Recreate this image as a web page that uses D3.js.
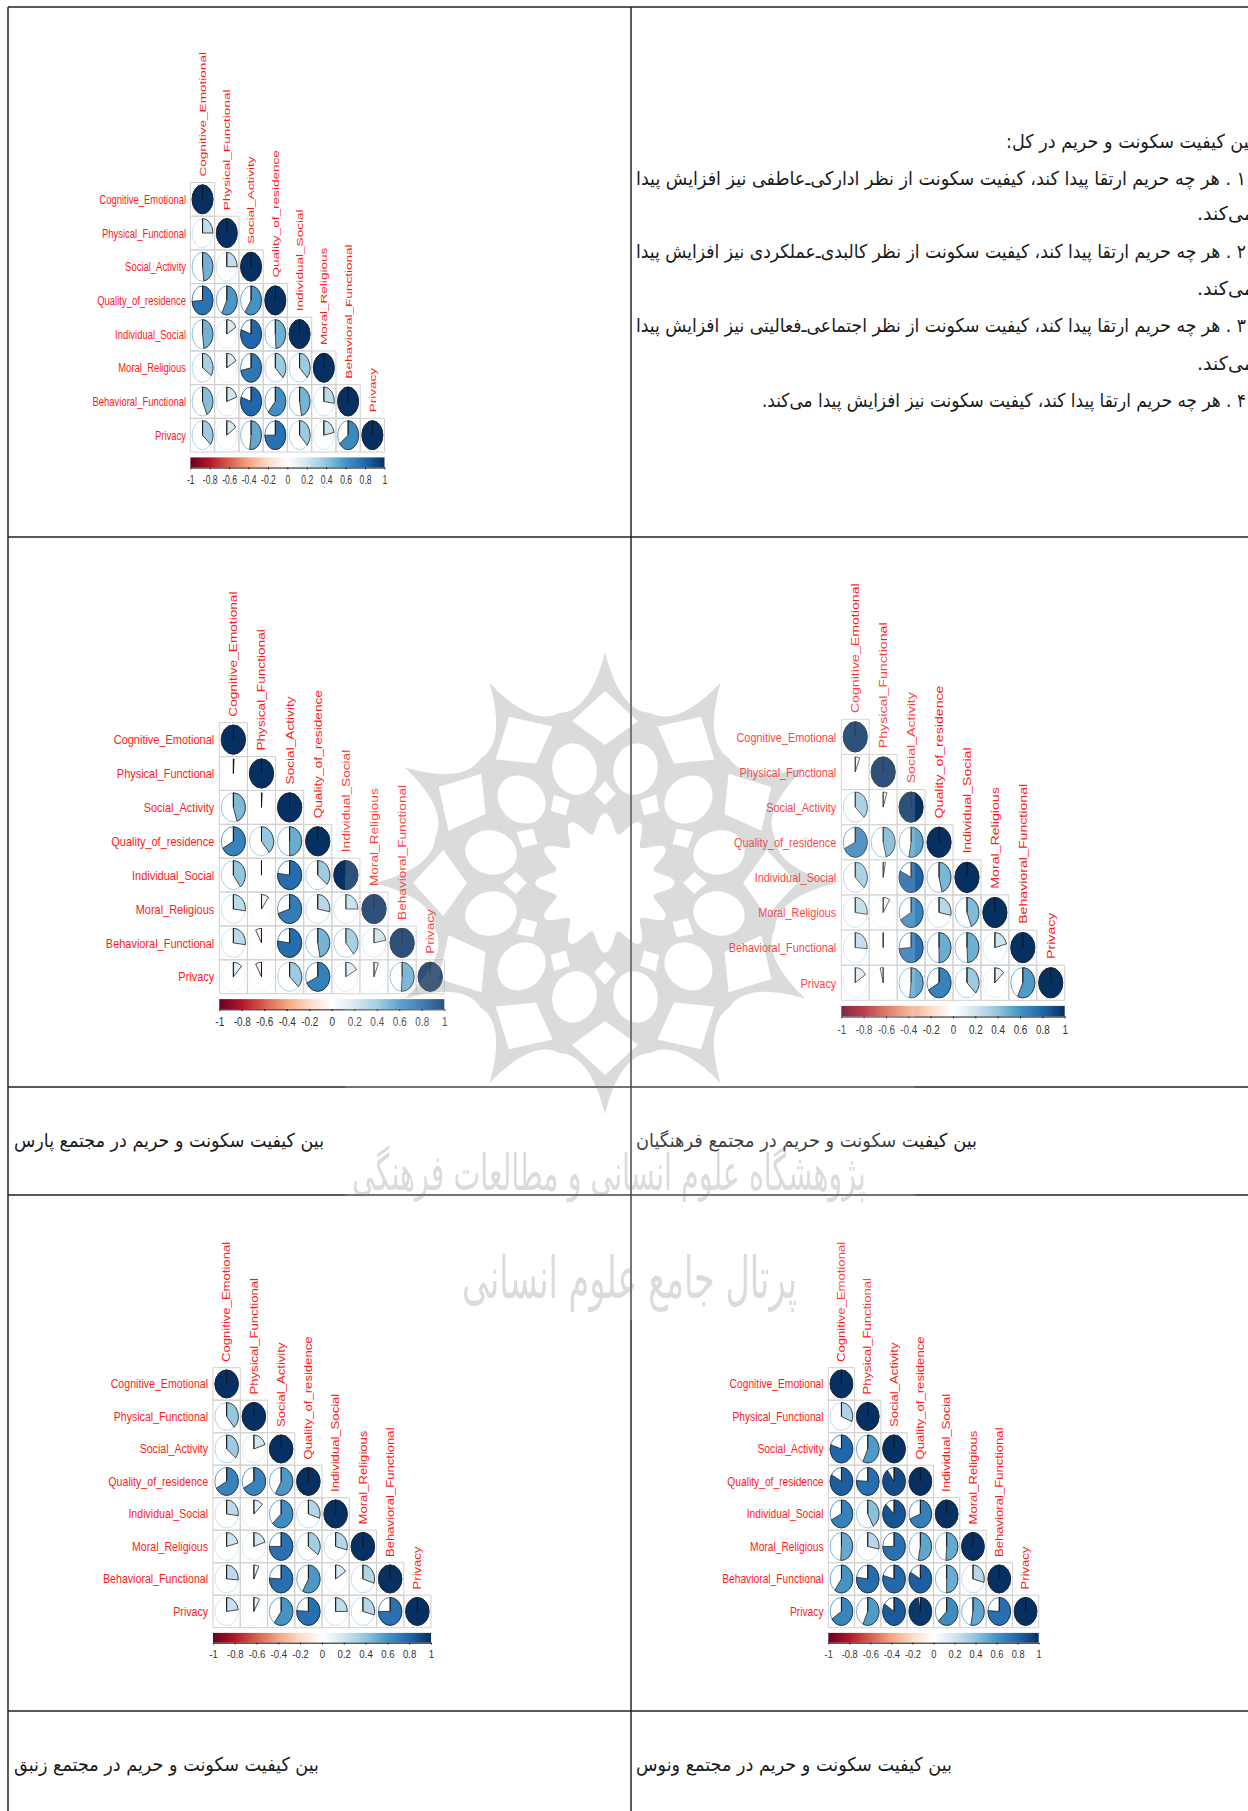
<!DOCTYPE html>
<html>
<head>
<meta charset="utf-8">
<title>corrplot</title>
<script src="https://cdn.jsdelivr.net/npm/d3@7"></script>
<style>
    html, body { margin: 0; padding: 0; background: #fff; }
    svg { display: block; }
    .nss { vector-effect: non-scaling-stroke; }
    .bar-axis path, .bar-axis line { stroke: #111; stroke-width: 1px; vector-effect: non-scaling-stroke; }
    .bar-axis text { fill: #333; font-family: "Liberation Sans", Arial, sans-serif; font-size: 10.6px; }
</style>
</head>
<body>
<div id="d3container"></div>
<script>
var categories = ['Cognitive_Emotional', 'Physical_Functional', 'Social_Activity', 'Quality_of_residence',
    'Individual_Social', 'Moral_Religious', 'Behavioral_Functional', 'Privacy'];

var barTicks = [-1, -0.8, -0.6, -0.4, -0.2, 0, 0.2, 0.4, 0.6, 0.8, 1];
var palette = ['#67001F', '#B2182B', '#D6604D', '#F4A582', '#FDDBC7', '#FFFFFF', '#D1E5F0', '#92C5DE', '#4393C3', '#2166AC', '#053061'];

// lower triangle of each correlation matrix
var overallValues = [
    [1],
    [0.25, 1],
    [0.48, 0.25, 1],
    [0.74, 0.58, 0.60, 1],
    [0.48, 0.17, 0.80, 0.49, 1],
    [0.34, 0.17, 0.72, 0.37, 0.37, 1],
    [0.43, 0.20, 0.80, 0.62, 0.47, 0.27, 1],
    [0.36, 0.16, 0.52, 0.75, 0.37, 0.22, 0.65, 1]
];
var parsValues = [
    [1],
    [0.01, 1],
    [0.45, 0.01, 1],
    [0.67, 0.39, 0.50, 1],
    [0.40, 0.00, 0.77, 0.36, 1],
    [0.27, 0.10, 0.70, 0.28, 0.25, 1],
    [0.27, -0.08, 0.77, 0.47, 0.39, 0.22, 1],
    [0.12, -0.08, 0.37, 0.68, 0.17, 0.06, 0.51, 1]
];
var farhangianValues = [
    [1],
    [0.06, 1],
    [0.37, 0.05, 1],
    [0.68, 0.46, 0.53, 1],
    [0.37, 0.03, 0.82, 0.46, 1],
    [0.27, 0.09, 0.67, 0.28, 0.44, 1],
    [0.26, 0.00, 0.74, 0.50, 0.49, 0.21, 1],
    [0.16, -0.04, 0.52, 0.67, 0.37, 0.13, 0.57, 1]
];
var zanbaghValues = [
    [1],
    [0.39, 1],
    [0.36, 0.20, 1],
    [0.67, 0.67, 0.58, 1],
    [0.27, 0.13, 0.63, 0.30, 1],
    [0.21, 0.20, 0.75, 0.35, 0.29, 1],
    [0.26, 0.07, 0.76, 0.58, 0.16, 0.30, 1],
    [0.23, 0.08, 0.60, 0.76, 0.25, 0.29, 0.75, 1]
];
var venusValues = [
    [1],
    [0.31, 1],
    [0.80, 0.57, 1],
    [0.83, 0.76, 0.90, 1],
    [0.68, 0.42, 0.87, 0.69, 1],
    [0.51, 0.28, 0.75, 0.53, 0.51, 1],
    [0.60, 0.77, 0.79, 0.83, 0.50, 0.29, 1],
    [0.66, 0.57, 0.84, 0.97, 0.63, 0.53, 0.76, 1]
];

var noteLines = [
    'بین کیفیت سکونت و حریم در کل:',
    '۱ . هر چه حریم ارتقا پیدا کند، کیفیت سکونت از نظر ادارکی‌ـ‌عاطفی نیز افزایش پیدا',
    'می‌کند.',
    '۲ . هر چه حریم ارتقا پیدا کند، کیفیت سکونت از نظر کالبدی‌ـ‌عملکردی نیز افزایش پیدا',
    'می‌کند.',
    '۳ . هر چه حریم ارتقا پیدا کند، کیفیت سکونت از نظر اجتماعی‌ـ‌فعالیتی نیز افزایش پیدا',
    'می‌کند.',
    '۴ . هر چه حریم ارتقا پیدا کند، کیفیت سکونت نیز افزایش پیدا می‌کند.'
];
var captions = [
    'بین کیفیت سکونت و حریم در مجتمع پارس',
    'بین کیفیت سکونت و حریم در مجتمع فرهنگیان',
    'بین کیفیت سکونت و حریم در مجتمع زنبق',
    'بین کیفیت سکونت و حریم در مجتمع ونوس'
];
var watermarkLines = ['پژوهشگاه علوم انسانی و مطالعات فرهنگی', 'پرتال جامع علوم انسانی'];

var width = 1248;
var height = 1811;
var unit = 240; // inner size of a matrix, the group transform stretches it to the panel

var panels = [
    {values: overallValues, x0: 190.4, x1: 384.5, y0: 182.5, y1: 452},
    {values: parsValues, x0: 219.3, x1: 444.3, y0: 722.7, y1: 993.7},
    {values: farhangianValues, x0: 841.3, x1: 1064.7, y0: 719.3, y1: 1000.3},
    {values: zanbaghValues, x0: 213, x1: 431, y0: 1367.7, y1: 1627.7},
    {values: venusValues, x0: 828.3, x1: 1038.7, y0: 1367.7, y1: 1627.7}
];
var noteLayout = [
    {right: 1254, len: 248, y: 142},
    {right: 1246, len: 610, y: 179},
    {right: 1254, len: 57, y: 214},
    {right: 1246, len: 610, y: 252},
    {right: 1254, len: 57, y: 289},
    {right: 1246, len: 610, y: 326},
    {right: 1254, len: 57, y: 364},
    {right: 1246, len: 484, y: 401}
];
var captionLayout = [
    {right: 324, len: 310, y: 1141},
    {right: 977, len: 341, y: 1141},
    {right: 319, len: 305, y: 1765},
    {right: 952, len: 316, y: 1765}
];
var vRules = [8, 631];
var hRules = [7, 537, 1087, 1195, 1711];

var svg = d3.select('#d3container')
    .append('svg')
    .attr('width', width)
    .attr('height', height);

svg.append('rect').attr('width', width).attr('height', height).attr('fill', '#fff');

var color = d3.scaleLinear()
    .domain(barTicks)
    .range(palette);

var gradient = svg.append('defs').append('linearGradient')
    .attr('id', 'barGradient');
gradient.selectAll('stop')
    .data(barTicks)
    .enter().append('stop')
    .attr('offset', function (d) { return (d + 1) / 2; })
    .attr('stop-color', function (d) { return color(d); });

// table rules
svg.selectAll('.vrule')
    .data(vRules)
    .enter().append('line')
    .attr('x1', function (d) { return d; })
    .attr('x2', function (d) { return d; })
    .attr('y1', 7)
    .attr('y2', height)
    .attr('stroke', '#333')
    .attr('stroke-width', 1.6);
svg.selectAll('.hrule')
    .data(hRules)
    .enter().append('line')
    .attr('x1', 8)
    .attr('x2', width)
    .attr('y1', function (d) { return d; })
    .attr('y2', function (d) { return d; })
    .attr('stroke', '#222')
    .attr('stroke-width', 1.6);

function persianText(g, str, layout, size, fill) {
    g.append('text')
        .attr('x', layout.right)
        .attr('y', layout.y)
        .attr('direction', 'rtl')
        .attr('text-anchor', 'start')
        .attr('dominant-baseline', 'middle')
        .attr('textLength', layout.len)
        .attr('lengthAdjust', 'spacingAndGlyphs')
        .attr('font-family', '"DejaVu Sans", sans-serif')
        .attr('font-size', size)
        .attr('fill', fill)
        .text(str);
}

noteLines.forEach(function (str, i) {
    persianText(svg, str, noteLayout[i], 19, '#1a1a1a');
});
captions.forEach(function (str, i) {
    persianText(svg, str, captionLayout[i], 19, '#1a1a1a');
});

var radius = 12.9;
var arc = d3.arc().innerRadius(0).outerRadius(radius);

function drawPanel(panel) {
    var g = svg.append('g')
        .attr('transform', 'translate(' + panel.x0 + ',' + panel.y0 + ') scale(' +
            (panel.x1 - panel.x0) / unit + ',' + (panel.y1 - panel.y0) / unit + ')');

    var x = d3.scaleBand().domain(categories).range([0, unit]);
    var y = d3.scaleBand().domain(categories).range([0, unit]);

    var cells = [];
    panel.values.forEach(function (row, i) {
        row.forEach(function (v, j) {
            cells.push({row: categories[i], col: categories[j], value: v});
        });
    });

    var cell = g.selectAll('.cell')
        .data(cells)
        .enter().append('g')
        .attr('class', 'cell')
        .attr('transform', function (d) {
            return 'translate(' + x(d.col) + ',' + y(d.row) + ')';
        });

    cell.append('rect')
        .attr('class', 'nss')
        .attr('width', x.bandwidth())
        .attr('height', y.bandwidth())
        .attr('fill', 'none')
        .attr('stroke', '#cfcfcf')
        .attr('stroke-width', 1);

    var pie = cell.append('g')
        .attr('transform', 'translate(' + x.bandwidth() / 2 + ',' + y.bandwidth() / 2 + ')');

    pie.append('circle')
        .attr('class', 'nss')
        .attr('r', radius)
        .attr('fill', 'none')
        .attr('stroke', function (d) { return color(d.value); })
        .attr('stroke-width', 0.8);

    pie.append('path')
        .attr('class', 'nss')
        .attr('d', function (d) {
            return arc({startAngle: 0, endAngle: 2 * Math.PI * d.value});
        })
        .attr('fill', function (d) { return color(d.value); })
        .attr('stroke', '#222')
        .attr('stroke-width', 0.8);

    pie.append('line')
        .attr('class', 'nss')
        .attr('y2', -radius)
        .attr('stroke', '#111')
        .attr('stroke-width', 0.9);

    // row labels
    g.selectAll('.rowlabel')
        .data(categories)
        .enter().append('text')
        .attr('x', -5.4)
        .attr('y', function (d) { return y(d) + y.bandwidth() / 2; })
        .attr('dy', '0.35em')
        .attr('text-anchor', 'end')
        .attr('font-family', '"Liberation Sans", Arial, sans-serif')
        .attr('font-size', 11.7)
        .attr('fill', '#ff1a1a')
        .text(function (d) { return d; });

    // column labels sit on top of the diagonal cell
    g.selectAll('.collabel')
        .data(categories)
        .enter().append('text')
        .attr('transform', function (d) {
            return 'translate(' + (x(d) + x.bandwidth() / 2) + ',' + (y(d) - 5.3) + ') rotate(-90)';
        })
        .attr('dy', '0.35em')
        .attr('font-family', '"Liberation Sans", Arial, sans-serif')
        .attr('font-size', 12.1)
        .attr('fill', '#ff1a1a')
        .text(function (d) { return d; });

    // colour bar
    var barX = d3.scaleLinear().domain([-1, 1]).range([0, unit]);
    var barTop = unit + 4.8;
    var barHeight = 9;

    g.append('rect')
        .attr('x', 0)
        .attr('y', barTop)
        .attr('width', unit)
        .attr('height', barHeight)
        .attr('fill', 'url(#barGradient)');

    g.append('g')
        .attr('class', 'bar-axis')
        .attr('transform', 'translate(0,' + (barTop + barHeight) + ')')
        .call(d3.axisBottom(barX)
            .tickValues(barTicks)
            .tickSize(1.6)
            .tickSizeOuter(0)
            .tickPadding(5.5)
            .tickFormat(function (d) { return String(+d.toFixed(1)); }));
}

panels.forEach(drawPanel);

// watermark rosette, one even-odd path laid over everything
function polar(r, deg) {
    var a = deg * Math.PI / 180;
    return [r * Math.sin(a), -r * Math.cos(a)];
}

function rosettePath() {
    var p = d3.path();
    var k, i, pt, c;

    // spiked outer edge
    pt = polar(231, 0);
    p.moveTo(pt[0], pt[1]);
    for (k = 0; k < 12; k++) {
        var th = k * 30;
        c = polar(172, th + 5);
        pt = polar(176, th + 15);
        p.quadraticCurveTo(c[0], c[1], pt[0], pt[1]);
        c = polar(172, th + 25);
        pt = polar(231, th + 30);
        p.quadraticCurveTo(c[0], c[1], pt[0], pt[1]);
    }
    p.closePath();

    for (k = 0; k < 12; k++) {
        var base = k * 30;

        // square windows under each spike
        [[138, 0], [165, 11.5], [192, 0], [165, -11.5]].forEach(function (q, n) {
            var w = polar(q[0], base + q[1]);
            if (n === 0) { p.moveTo(w[0], w[1]); } else { p.lineTo(w[0], w[1]); }
        });
        p.closePath();

        // small diamonds between the ovals
        [[78, 0], [90, 7], [102, 0], [90, -7]].forEach(function (q, n) {
            var w = polar(q[0], base + q[1]);
            if (n === 0) { p.moveTo(w[0], w[1]); } else { p.lineTo(w[0], w[1]); }
        });
        p.closePath();

        // ring of ovals
        var ang = (base + 15) * Math.PI / 180;
        var cen = polar(118, base + 15);
        for (i = 0; i <= 32; i++) {
            var t = i / 32 * 2 * Math.PI;
            var rad = 26 * Math.cos(t);
            var tan = 22 * Math.sin(t);
            var px = cen[0] + rad * Math.sin(ang) + tan * Math.cos(ang);
            var py = cen[1] - rad * Math.cos(ang) + tan * Math.sin(ang);
            if (i === 0) { p.moveTo(px, py); } else { p.lineTo(px, py); }
        }
        p.closePath();
    }

    // scalloped flower in the middle
    for (i = 0; i <= 144; i++) {
        var deg = i * 2.5;
        pt = polar(60 + 10 * Math.cos(12 * deg * Math.PI / 180), deg);
        if (i === 0) { p.moveTo(pt[0], pt[1]); } else { p.lineTo(pt[0], pt[1]); }
    }
    p.closePath();
    return p.toString();
}

var watermark = svg.append('g').attr('opacity', 0.27);

watermark.append('path')
    .attr('transform', 'translate(605,883)')
    .attr('d', rosettePath())
    .attr('fill', 'rgb(100,100,100)')
    .attr('fill-rule', 'evenodd');

persianText(watermark, watermarkLines[0], {right: 866, len: 514, y: 1176}, 50, 'rgb(100,100,100)');
persianText(watermark, watermarkLines[1], {right: 797, len: 335, y: 1282}, 58, 'rgb(100,100,100)');

// the watermark image also washes out whatever lies under its tile
svg.append('rect')
    .attr('x', 345)
    .attr('y', 640)
    .attr('width', 570)
    .attr('height', 680)
    .attr('fill', '#fff')
    .attr('opacity', 0.16);
</script>
</body>
</html>
